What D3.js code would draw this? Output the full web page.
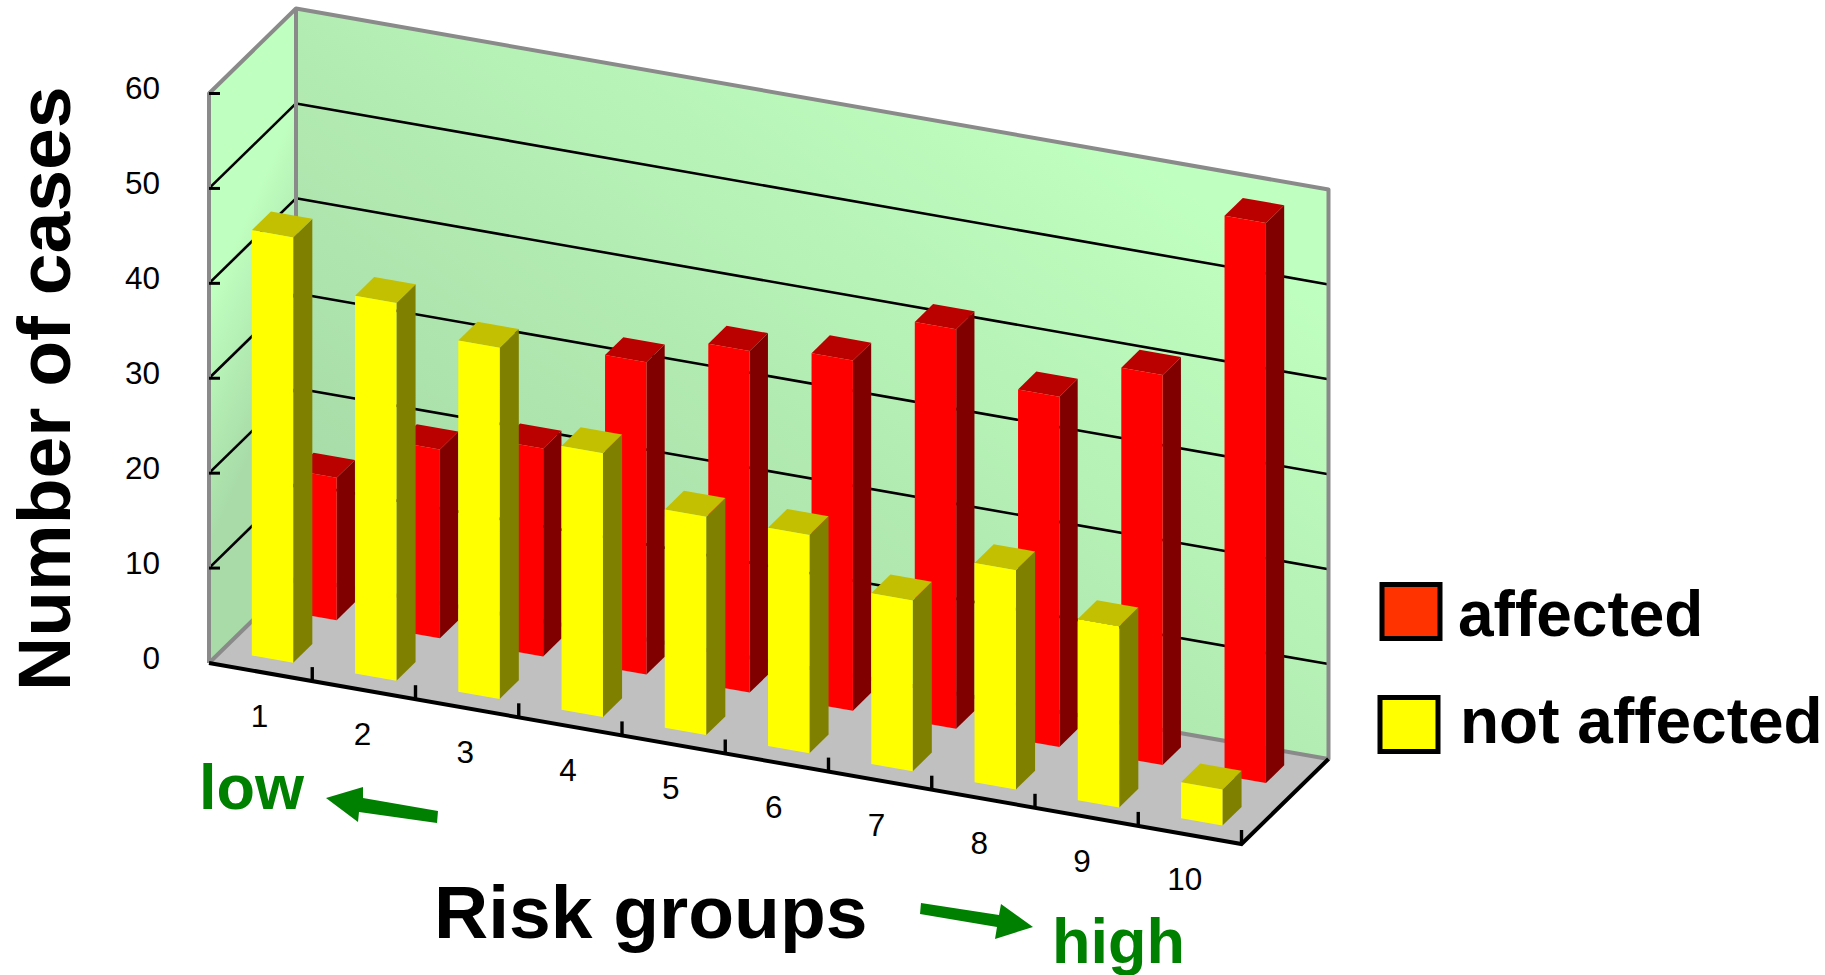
<!DOCTYPE html>
<html>
<head>
<meta charset="utf-8">
<script src="https://cdn.jsdelivr.net/npm/d3@7"></script>
<style>
  html, body { margin: 0; padding: 0; background: #fff; }
  svg { display: block; }
  text { font-family: "Liberation Sans", Arial, sans-serif; }
</style>
</head>
<body>
<svg id="chart"></svg>
<script>
let categories = ["1", "2", "3", "4", "5", "6", "7", "8", "9", "10"];
let notAffected = [44.8, 39.8, 37, 27.8, 23, 23, 18, 23.1, 19.1, 3.8];
let affected = [15, 19.9, 21.9, 32.9, 36, 36.9, 42.1, 36.9, 41.1, 59];
let yTicks = [0, 10, 20, 30, 40, 50, 60];
let legendLabels = ["affected", "not affected"];

function getConfig() {
    let width = 1825;
    let height = 975;
    let container = d3.select("#chart")
        .attr("width", width)
        .attr("height", height);

    // oblique projection of the box: category runs along the floor, depth runs back
    let xScale = d3.scaleLinear().domain([0, categories.length]).range([209, 1241.5]);
    let floorScale = d3.scaleLinear().domain([0, categories.length]).range([663, 844]);
    let valueScale = d3.scaleLinear().domain([0, 60]).range([0, 569.5]);
    let depthX = d3.scaleLinear().domain([0, 1]).range([0, 87]);
    let depthY = d3.scaleLinear().domain([0, 1]).range([0, 85]);

    let project = (c, v, d) => [
        xScale(c) + depthX(d),
        floorScale(c) - valueScale(v) - depthY(d)
    ];

    return { width, height, container, project };
}

function addGradients(config) {
    let defs = config.container.append("defs");

    let back = defs.append("linearGradient")
        .attr("id", "backWall")
        .attr("gradientUnits", "userSpaceOnUse")
        .attr("x1", 296).attr("y1", 578)
        .attr("x2", 790).attr("y2", -100);
    back.append("stop").attr("offset", "0").attr("stop-color", "#a5d7a5");
    back.append("stop").attr("offset", "1").attr("stop-color", "#bfffbf");

    let left = defs.append("linearGradient")
        .attr("id", "leftWall")
        .attr("gradientUnits", "userSpaceOnUse")
        .attr("x1", 209).attr("y1", 300)
        .attr("x2", 300).attr("y2", 340);
    left.append("stop").attr("offset", "0").attr("stop-color", "#bfffbf");
    left.append("stop").attr("offset", "1").attr("stop-color", "#a8dba8");
}

function poly(points) {
    return points.map(p => p.join(",")).join(" ");
}

function drawBox(config) {
    let { container, project } = config;
    let n = categories.length;
    let box = container.append("g");

    box.append("polygon")
        .attr("points", poly([project(0, 0, 0), project(0, 60, 0), project(0, 60, 1), project(0, 0, 1)]))
        .attr("fill", "url(#leftWall)");
    box.append("polygon")
        .attr("points", poly([project(0, 0, 1), project(0, 60, 1), project(n, 60, 1), project(n, 0, 1)]))
        .attr("fill", "url(#backWall)");
    box.append("polygon")
        .attr("points", poly([project(0, 0, 0), project(0, 0, 1), project(n, 0, 1), project(n, 0, 0)]))
        .attr("fill", "#c0c0c0");

    // grid lines on both walls
    let grid = yTicks.filter(t => t > 0 && t < 60);
    let line = d3.line();
    box.selectAll(".gridBack").data(grid).enter().append("path")
        .attr("d", t => line([project(0, t, 1), project(n, t, 1)]))
        .attr("stroke", "#000").attr("stroke-width", 2.6).attr("fill", "none");
    box.selectAll(".gridLeft").data(grid).enter().append("path")
        .attr("d", t => line([project(0, t, 0), project(0, t, 1)]))
        .attr("stroke", "#000").attr("stroke-width", 2.6).attr("fill", "none");

    // grey frame
    box.append("path")
        .attr("d", line([project(0, 0, 0), project(0, 60, 0), project(0, 60, 1), project(n, 60, 1), project(n, 0, 1), project(0, 0, 1), project(0, 0, 0)]))
        .attr("stroke", "#8a8a8a").attr("stroke-width", 4).attr("fill", "none")
        .attr("stroke-linejoin", "round");
    box.append("path")
        .attr("d", line([project(0, 60, 1), project(0, 0, 1)]))
        .attr("stroke", "#8a8a8a").attr("stroke-width", 4).attr("fill", "none");

    // front floor edges
    box.append("path")
        .attr("d", line([project(0, 0, 0), project(n, 0, 0), project(n, 0, 1)]))
        .attr("stroke", "#000").attr("stroke-width", 4).attr("fill", "none");

    // y ticks
    box.selectAll(".yTick").data(yTicks.filter(t => t > 0)).enter().append("path")
        .attr("d", t => {
            let p = project(0, t, 0);
            return line([p, [p[0] + 11, p[1]]]);
        })
        .attr("stroke", "#000").attr("stroke-width", 3).attr("fill", "none");

    box.selectAll(".yLabel").data(yTicks).enter().append("text")
        .attr("x", 160)
        .attr("y", t => project(0, t, 0)[1] + 5.5)
        .attr("text-anchor", "end")
        .attr("font-size", 31.5)
        .text(t => t);

    // category ticks at the cell borders
    box.selectAll(".xTick").data(categories).enter().append("path")
        .attr("d", (c, i) => {
            let p = project(i + 1, 0, 0);
            return line([p, [p[0], p[1] - 14]]);
        })
        .attr("stroke", "#000").attr("stroke-width", 3.4).attr("fill", "none");

    // labels drift a little left of their cells towards the right end
    let labelShift = d3.scaleLinear().domain([0, categories.length - 1]).range([-1, -5]);
    box.selectAll(".xLabel").data(categories).enter().append("text")
        .attr("x", (c, i) => project(i + 0.5, 0, 0)[0] + labelShift(i))
        .attr("y", (c, i) => project(i + 0.5, 0, 0)[1] + 55)
        .attr("text-anchor", "middle")
        .attr("font-size", 31.5)
        .text(c => c);
}

function drawBars(values, d0, d1, colors, config) {
    let { container, project } = config;
    let bw0 = 0.288;
    let bw1 = 0.689;

    let bars = container.append("g").selectAll("g").data(values).enter().append("g");

    // front, side and top of each bar
    bars.append("polygon")
        .attr("points", (v, i) => poly([project(i + bw1, 0, d0), project(i + bw1, 0, d1), project(i + bw1, v, d1), project(i + bw1, v, d0)]))
        .attr("fill", colors.side);
    bars.append("polygon")
        .attr("points", (v, i) => poly([project(i + bw0, v, d0), project(i + bw1, v, d0), project(i + bw1, v, d1), project(i + bw0, v, d1)]))
        .attr("fill", colors.top);
    bars.append("polygon")
        .attr("points", (v, i) => poly([project(i + bw0, 0, d0), project(i + bw1, 0, d0), project(i + bw1, v, d0), project(i + bw0, v, d0)]))
        .attr("fill", colors.front);
}

function drawLabels(config) {
    let { container } = config;

    container.append("text")
        .attr("transform", "translate(70,691) rotate(-90)")
        .attr("font-size", 75).attr("font-weight", "bold")
        .text("Number of cases");

    container.append("text")
        .attr("x", 434).attr("y", 938)
        .attr("font-size", 75).attr("font-weight", "bold")
        .text("Risk groups");

    container.append("text")
        .attr("x", 199).attr("y", 809)
        .attr("font-size", 63).attr("font-weight", "bold").attr("fill", "#008000")
        .text("low");
    container.append("text")
        .attr("x", 1052).attr("y", 963)
        .attr("font-size", 63).attr("font-weight", "bold").attr("fill", "#008000")
        .text("high");

    // arrows
    container.append("polygon")
        .attr("points", "326,798 363,787 363,798 438,811 437,823 359,812 358,822")
        .attr("fill", "#008000");
    container.append("polygon")
        .attr("points", "921,903 920,914 997,927 995,939 1033,927 1001,904 999,915")
        .attr("fill", "#008000");

    // legend
    let legend = [
        { label: legendLabels[0], fill: "#ff3300", x: 1382, y: 584.5, tx: 1458, ty: 636 },
        { label: legendLabels[1], fill: "#ffff00", x: 1380, y: 697.5, tx: 1460, ty: 743 }
    ];
    let items = container.append("g").selectAll("g").data(legend).enter().append("g");
    items.append("rect")
        .attr("x", d => d.x).attr("y", d => d.y)
        .attr("width", 58).attr("height", 54)
        .attr("fill", d => d.fill)
        .attr("stroke", "#000").attr("stroke-width", 5);
    items.append("text")
        .attr("x", d => d.tx).attr("y", d => d.ty)
        .attr("font-size", 64).attr("font-weight", "bold")
        .text(d => d.label);
}

function showData() {
    let config = getConfig();
    addGradients(config);
    drawBox(config);
    drawBars(affected, 0.65, 0.86, { front: "#ff0000", top: "#bb0000", side: "#800000" }, config);
    drawBars(notAffected, 0.15, 0.37, { front: "#ffff00", top: "#c2c000", side: "#808000" }, config);
    drawLabels(config);
}

showData();
</script>
</body>
</html>
